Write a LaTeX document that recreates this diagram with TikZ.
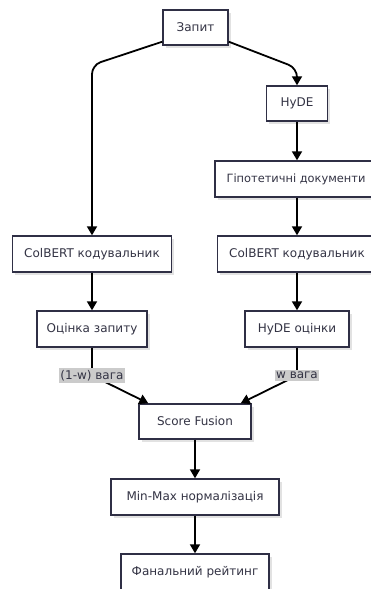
\documentclass[tikz,border=0pt]{standalone}
\usepackage{fontspec}
\setmainfont{DejaVu Sans}
\usetikzlibrary{arrows.meta,calc}
\definecolor{boxline}{HTML}{2F2F45}
\definecolor{boxtext}{HTML}{333344}
\definecolor{lblbg}{HTML}{CBCBCB}
\definecolor{shadowc}{HTML}{E2E2E2}
\tikzset{
  stepbox/.style={draw=boxline, line width=1.4pt, fill=white, text=boxtext,
    font=\fontsize{12pt}{14pt}\selectfont, inner sep=0pt, align=center},
  weightlbl/.style={fill=lblbg, text=boxtext, inner xsep=1pt, inner ysep=2pt,
    font=\fontsize{12pt}{14pt}\selectfont},
  flow/.style={draw=black, line width=1.8pt, rounded corners=9pt,
    -{Triangle[width=10pt,length=9pt]}},
  plain/.style={draw=black, line width=1.8pt, rounded corners=6pt},
}
% box with a faint drop shadow: name, centre, width, height, text
\newcommand{\flowbox}[5]{%
  \fill[shadowc] ($(#2)+(-#3/2+2.5,-#4/2+2.5)$) rectangle ++(#3,#4);
  \node[stepbox, minimum width=#3pt, minimum height=#4pt] (#1) at (#2) {#5};
}
\begin{document}
\begin{tikzpicture}[x=1pt, y=-1pt]
\useasboundingbox (0,0) rectangle (370,589);

\flowbox{query}{195.5,27.5}{65}{35}{Запит}
\flowbox{hyde}{297,103.5}{61}{35}{HyDE}
\flowbox{hypo}{296,179}{162}{36}{\fontsize{11.4pt}{14pt}\selectfont Гіпотетичні документи}
\flowbox{colL}{92,254}{159}{36}{ColBERT кодувальник}
\flowbox{colR}{297,254}{159}{36}{ColBERT кодувальник}
\flowbox{qscore}{92,329}{110}{36}{Оцінка запиту}
\flowbox{hscore}{297,329}{104}{36}{HyDE оцінки}
\flowbox{fusion}{195,421.5}{112}{35}{Score Fusion}
\flowbox{norm}{195,497}{168}{36}{Min-Max нормалізація}
\flowbox{final}{195,572}{148}{36}{Фанальний рейтинг}

% branches out of the query
\coordinate (qL) at ($(query.south west)+(0,-4)$);
\coordinate (qR) at ($(query.south east)+(0,-4)$);
\draw[flow] (qL) -- (92,65) -- (colL.north);
\draw[flow] (qR) -- (297,68) -- (hyde.north);

% HyDE branch
\draw[flow] (hyde.south) -- (hyde.south |- hypo.north);
\draw[flow] (colR.north |- hypo.south) -- (colR.north);
\draw[flow] (colR.south) -- (hscore.north);

% query branch
\draw[flow] (colL.south) -- (qscore.north);

% weighted edges into the fusion step
\coordinate (wL) at (92,375.5);
\coordinate (wR) at (297,375.5);
\coordinate (fL) at ($(fusion.north west)+(10,0)$);
\coordinate (fR) at ($(fusion.north east)+(-11,0)$);
\draw[plain] (qscore.south) -- (wL);
\draw[flow] (wL) -- (fL);
\draw[plain] (hscore.south) -- (wR);
\draw[flow] (wR) -- (fR);
\node[weightlbl] (lblL) at (wL) {(1-w) вага};
\node[weightlbl] (lblR) at (wR) {w вага};

% normalisation and ranking
\draw[flow] (fusion.south) -- (norm.north);
\draw[flow] (norm.south) -- (final.north);
\end{tikzpicture}
\end{document}
